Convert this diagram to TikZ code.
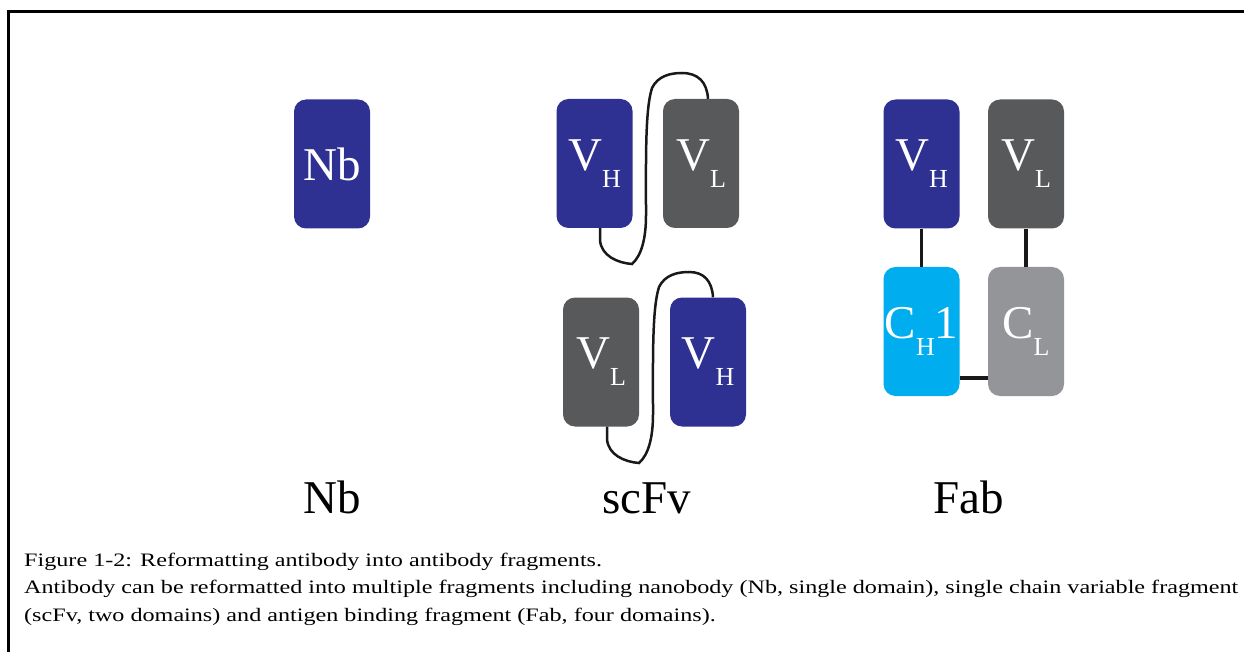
\documentclass[tikz,border=0pt]{standalone}
\usepackage{fontspec}
\setmainfont{Liberation Serif}
\usepackage{graphicx}
\definecolor{vhblue}{HTML}{2E3192}
\definecolor{vlgray}{HTML}{58595B}
\definecolor{chcyan}{HTML}{00AEEF}
\definecolor{clgray}{HTML}{939598}
\newcommand\subt[1]{\raisebox{-17pt}{\fontsize{26}{26}\selectfont #1}}
\newcommand\capfont{\fontsize{19}{19}\selectfont}
\newlength\capw
\tikzset{
  dom/.style={rounded corners=12pt, minimum width=76pt, minimum height=129pt,
    inner sep=0pt, text=white, font=\fontsize{47}{47}\selectfont},
  linker/.style={line width=2.5pt, black!90},
  bond/.style={line width=3.5pt, black!90},
  biglabel/.style={anchor=base, font=\fontsize{47}{47}\selectfont, inner sep=0pt},
  capline/.style={anchor=base west, inner sep=0pt}
}
\begin{document}
\settowidth\capw{\capfont Antibody can be reformatted into multiple fragments including nanobody (Nb, single domain), single chain variable fragment}
\pgfmathsetmacro\capsx{1214/\capw}
\begin{tikzpicture}[x=1pt,y=-1pt]
\useasboundingbox (0,0) rectangle (1244,652);
\fill[white] (0,0) rectangle (1244,652);
\draw[line width=3pt] (1250,12) -- (8.5,12) -- (8.5,660);

% Nb
\node[dom, fill=vhblue] (nb) at (332,164) {Nb};

% scFv top
\node[dom, fill=vhblue] (vh1) at (594.5,163.5) {V\subt{H}};
\node[dom, fill=vlgray] (vl1) at (701,163.5) {V\subt{L}};
\draw[linker] ([xshift=5.5pt]vh1.south) -- (600,240)
  .. controls (601,256) and (618,263) .. (632,264)
  .. controls (641,256) and (646,240) .. (646,215)
  .. controls (646,160) and (645,110) .. (652,88)
  .. controls (658,76) and (670,73) .. (682,73)
  .. controls (698,73) and (707,82) .. ([xshift=7pt]vl1.north);

% scFv bottom
\node[dom, fill=vlgray] (vl2) at (601,362) {V\subt{L}};
\node[dom, fill=vhblue] (vh2) at (708,362) {V\subt{H}};
\draw[linker] ([xshift=6pt]vl2.south) -- (607,439)
  .. controls (608,455) and (625,462) .. (639,463)
  .. controls (648,455) and (653,439) .. (653,414)
  .. controls (653,359) and (652,309) .. (659,287)
  .. controls (665,275) and (677,272) .. (689,272)
  .. controls (704,272) and (712,281) .. ([xshift=5pt]vh2.north);

% Fab
\node[dom, fill=vhblue] (fvh) at (921.5,164) {V\subt{H}};
\node[dom, fill=vlgray] (fvl) at (1026,164) {V\subt{L}};
\node[dom, fill=chcyan] (fch) at (921.5,331.5) {C\subt{H}1};
\node[dom, fill=clgray] (fcl) at (1026,331.5) {C\subt{L}};
\draw[bond] (fvh.south) -- (fch.north);
\draw[bond] (fvl.south) -- (fcl.north);
\draw[bond] ([yshift=-46.5pt]fch.east) -- ([yshift=-46.5pt]fcl.west);

% labels
\node[biglabel] (lnb) at (332,513) {Nb};
\node[biglabel] (lscfv) at (647,513) {scFv};
\node[biglabel] (lfab) at (969,513) {Fab};

% caption
\node[capline] (c1) at (24,566) {\scalebox{\capsx}[1]{\capfont Figure 1-2: Reformatting antibody into antibody fragments.}};
\node[capline] (c2) at (24,593.5) {\scalebox{\capsx}[1]{\capfont Antibody can be reformatted into multiple fragments including nanobody (Nb, single domain), single chain variable fragment}};
\node[capline] (c3) at (24,621) {\scalebox{\capsx}[1]{\capfont (scFv, two domains) and antigen binding fragment (Fab, four domains).}};
\end{tikzpicture}
\end{document}
